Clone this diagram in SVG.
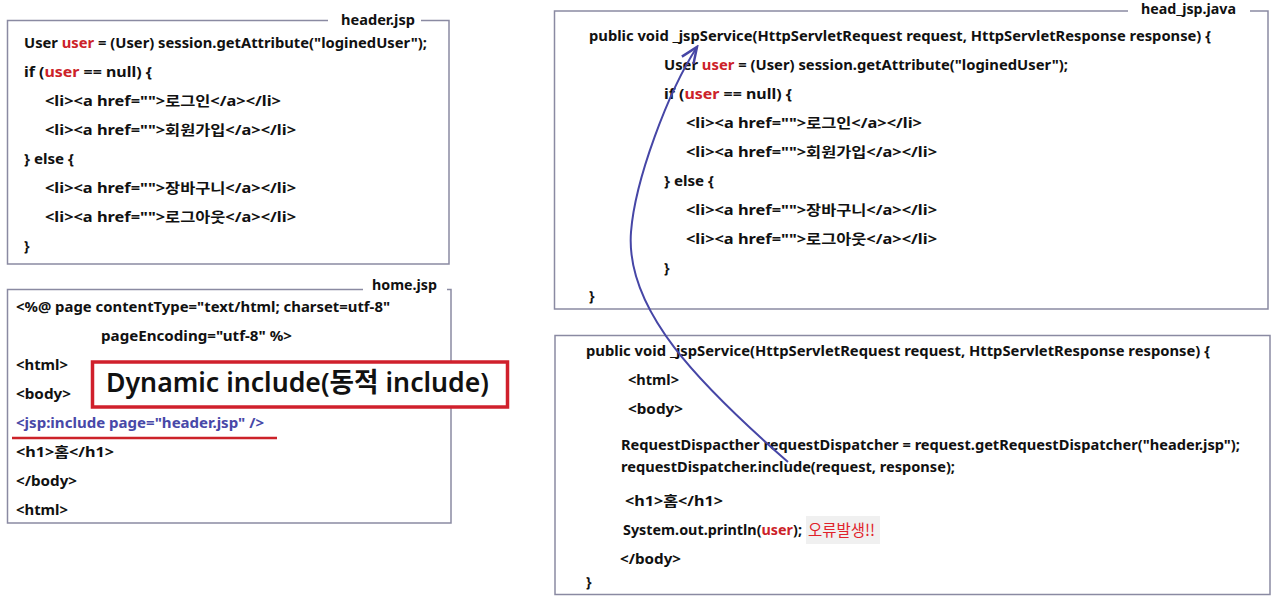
<svg xmlns="http://www.w3.org/2000/svg" width="1280" height="599" viewBox="0 0 1280 599">
<style>
.frame{fill:none;stroke:#8a8aa2;stroke-width:1.5}
.code{font-family:"Noto Sans","Noto Sans CJK KR",sans-serif;font-weight:bold;font-size:14px;fill:#111}
.title{font-family:"Noto Sans","Noto Sans CJK KR",sans-serif;font-weight:bold;font-size:15px;fill:#111}
.red{fill:#cc2229}
.blue{fill:#4848a8}
.err{font-family:"Noto Sans CJK KR","Noto Sans",sans-serif;font-weight:normal;font-size:16px;fill:#e0222a}
.conn{fill:none;stroke:#4646a6;stroke-width:2}
</style>
<defs>
<marker id="ah" markerUnits="userSpaceOnUse" markerWidth="20" markerHeight="20" refX="0" refY="0" viewBox="-14 -8 16 16" orient="auto">
<path d="M-13,-6 L0,0 L-13,5" fill="none" stroke="#4646a6" stroke-width="2"/>
</marker>
</defs>
<rect width="1280" height="599" fill="#fff"/>

<g id="header-jsp">
<path class="frame" d="M328,20.5 H7.5 V264 H449 V20.5 H421"/>
<text class="title" x="341" y="25" textLength="74" lengthAdjust="spacingAndGlyphs">header.jsp</text>
<text class="code" x="24" y="48" textLength="403" lengthAdjust="spacingAndGlyphs">User <tspan class="red">user</tspan> = (User) session.getAttribute("loginedUser");</text>
<text class="code" x="24" y="77" textLength="128" lengthAdjust="spacingAndGlyphs">if (<tspan class="red">user</tspan> == null) {</text>
<text class="code" x="45" y="106" textLength="236" lengthAdjust="spacingAndGlyphs">&lt;li&gt;&lt;a href=""&gt;로그인&lt;/a&gt;&lt;/li&gt;</text>
<text class="code" x="45" y="135" textLength="251" lengthAdjust="spacingAndGlyphs">&lt;li&gt;&lt;a href=""&gt;회원가입&lt;/a&gt;&lt;/li&gt;</text>
<text class="code" x="24" y="164" textLength="50" lengthAdjust="spacingAndGlyphs">} else {</text>
<text class="code" x="45" y="193" textLength="251" lengthAdjust="spacingAndGlyphs">&lt;li&gt;&lt;a href=""&gt;장바구니&lt;/a&gt;&lt;/li&gt;</text>
<text class="code" x="45" y="222" textLength="251" lengthAdjust="spacingAndGlyphs">&lt;li&gt;&lt;a href=""&gt;로그아웃&lt;/a&gt;&lt;/li&gt;</text>
<text class="code" x="24" y="251">}</text>
</g>

<g id="home-jsp">
<path class="frame" d="M363,289.5 H7.5 V523 H451 V289.5 H447"/>
<text class="title" x="372" y="290" textLength="65" lengthAdjust="spacingAndGlyphs">home.jsp</text>
<text class="code" x="16" y="312" textLength="374" lengthAdjust="spacingAndGlyphs">&lt;%@ page contentType="text/html; charset=utf-8"</text>
<text class="code" x="101" y="341" textLength="191" lengthAdjust="spacingAndGlyphs">pageEncoding="utf-8" %&gt;</text>
<text class="code" x="16" y="370" textLength="52" lengthAdjust="spacingAndGlyphs">&lt;html&gt;</text>
<text class="code" x="16" y="399" textLength="55" lengthAdjust="spacingAndGlyphs">&lt;body&gt;</text>
<text class="code blue" x="16" y="428" textLength="248" lengthAdjust="spacingAndGlyphs">&lt;jsp:include page="header.jsp" /&gt;</text>
<line x1="12" y1="438" x2="277" y2="438" stroke="#cc2229" stroke-width="2.5"/>
<text class="code" x="16" y="457" textLength="98" lengthAdjust="spacingAndGlyphs">&lt;h1&gt;홈&lt;/h1&gt;</text>
<text class="code" x="16" y="486" textLength="61" lengthAdjust="spacingAndGlyphs">&lt;/body&gt;</text>
<text class="code" x="16" y="515" textLength="52" lengthAdjust="spacingAndGlyphs">&lt;html&gt;</text>
</g>

<g id="dynamic-include-label">
<rect x="92.5" y="362" width="415" height="45" fill="#fff" stroke="#d0202c" stroke-width="3.5"/>
<text x="106" y="392" font-family="'Noto Sans','Noto Sans CJK KR',sans-serif" font-size="27" font-weight="600" fill="#111" textLength="383" lengthAdjust="spacingAndGlyphs">Dynamic include(동적 include)</text>
</g>

<g id="head-jsp-java">
<path class="frame" d="M1128,11 H554.5 V309 H1268 V11 H1250"/>
<text class="title" x="1141" y="14" textLength="95" lengthAdjust="spacingAndGlyphs">head_jsp.java</text>
<text class="code" x="589" y="41" textLength="622" lengthAdjust="spacingAndGlyphs">public void _jspService(HttpServletRequest request, HttpServletResponse response) {</text>
<text class="code" x="664" y="70" textLength="404" lengthAdjust="spacingAndGlyphs">User <tspan class="red">user</tspan> = (User) session.getAttribute("loginedUser");</text>
<text class="code" x="664" y="99" textLength="128" lengthAdjust="spacingAndGlyphs">if (<tspan class="red">user</tspan> == null) {</text>
<text class="code" x="686" y="128" textLength="236" lengthAdjust="spacingAndGlyphs">&lt;li&gt;&lt;a href=""&gt;로그인&lt;/a&gt;&lt;/li&gt;</text>
<text class="code" x="686" y="157" textLength="251" lengthAdjust="spacingAndGlyphs">&lt;li&gt;&lt;a href=""&gt;회원가입&lt;/a&gt;&lt;/li&gt;</text>
<text class="code" x="664" y="186" textLength="50" lengthAdjust="spacingAndGlyphs">} else {</text>
<text class="code" x="686" y="215" textLength="251" lengthAdjust="spacingAndGlyphs">&lt;li&gt;&lt;a href=""&gt;장바구니&lt;/a&gt;&lt;/li&gt;</text>
<text class="code" x="686" y="244" textLength="251" lengthAdjust="spacingAndGlyphs">&lt;li&gt;&lt;a href=""&gt;로그아웃&lt;/a&gt;&lt;/li&gt;</text>
<text class="code" x="664" y="273">}</text>
<text class="code" x="589" y="301">}</text>
</g>

<g id="home-jsp-java">
<rect class="frame" x="555" y="335.5" width="715" height="259"/>
<text class="code" x="586" y="356" textLength="624" lengthAdjust="spacingAndGlyphs">public void _jspService(HttpServletRequest request, HttpServletResponse response) {</text>
<text class="code" x="628" y="385" textLength="51" lengthAdjust="spacingAndGlyphs">&lt;html&gt;</text>
<text class="code" x="628" y="414" textLength="55" lengthAdjust="spacingAndGlyphs">&lt;body&gt;</text>
<text class="code" x="621" y="450" textLength="619" lengthAdjust="spacingAndGlyphs">RequestDispacther requestDispatcher = request.getRequestDispatcher("header.jsp");</text>
<text class="code" x="621" y="472" textLength="334" lengthAdjust="spacingAndGlyphs">requestDispatcher.include(request, response);</text>
<text class="code" x="625" y="506" textLength="98" lengthAdjust="spacingAndGlyphs">&lt;h1&gt;홈&lt;/h1&gt;</text>
<text class="code" x="623" y="535" textLength="179" lengthAdjust="spacingAndGlyphs">System.out.println(<tspan class="red">user</tspan>);</text>
<rect x="806" y="516" width="74" height="28" fill="#f0f0f0"/>
<text class="err" x="808" y="536" textLength="67" lengthAdjust="spacingAndGlyphs">오류발생!!</text>
<text class="code" x="620" y="564" textLength="61" lengthAdjust="spacingAndGlyphs">&lt;/body&gt;</text>
<text class="code" x="586" y="587">}</text>
</g>

<g id="connectors">
<path class="conn" d="M788,462 C700,385 625,310 631,232 C635,180 668,92 697,47" marker-end="url(#ah)"/>
</g>
</svg>
